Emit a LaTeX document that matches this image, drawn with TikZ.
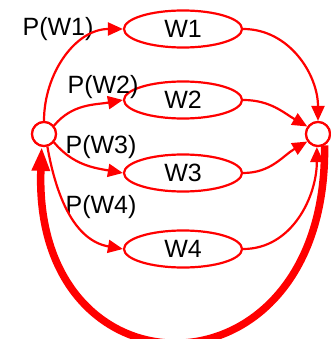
\documentclass[tikz,border=0pt]{standalone}
\usepackage{fontspec}
\setmainfont{Liberation Sans}
\usetikzlibrary{arrows.meta,shapes.geometric}
\begin{document}
\begin{tikzpicture}[x=1pt,y=-1pt,
  lbl/.style={font=\fontsize{25}{27}\selectfont, inner sep=0pt},
  wnode/.style={draw=red, line width=2.2pt, ellipse, minimum width=118pt, minimum height=37pt, inner sep=0pt, font=\fontsize{25}{27}\selectfont},
  cnode/.style={draw=red, line width=2.2pt, circle, minimum size=24pt, inner sep=0pt, fill=white},
  edge/.style={draw=red, line width=2.2pt, -{Triangle[length=15pt,width=13pt]}, red},
  thick edge/.style={draw=red, line width=7.5pt, -{Triangle[length=24pt,width=17pt]}, red}]
\useasboundingbox (0,0) rectangle (330,339);
\node[cnode] (L) at (44,134) {};
\node[cnode] (R) at (318,134) {};
\node[wnode] (W1) at (183,29) {W1};
\node[wnode] (W2) at (183,100) {W2};
\node[wnode] (W3) at (183,173) {W3};
\node[wnode] (W4) at (183,249) {W4};
\node[lbl] (p1) at (58,29) {P(W1)};
\node[lbl] (p2) at (103,87) {P(W2)};
\node[lbl] (p3) at (101,147) {P(W3)};
\node[lbl] (p4) at (101,207) {P(W4)};
\draw[thick edge] (R.-60) .. controls (328,405) and (32,405) .. (L.-100);
\draw[edge] (L.90) to[out=90,in=180] (W1.west);
\draw[edge] (L.40) to[out=50,in=190] (W2.west);
\draw[edge] (L.-40) to[out=-50,in=170] (W3.west);
\draw[edge] (L.-75) to[out=-80,in=170] (W4.west);
\draw[edge] (W1.east) to[out=0,in=90] (R.north);
\draw[edge] (W2.east) to[out=0,in=150] (R.145);
\draw[edge] (W3.east) to[out=0,in=210] (R.215);
\draw[edge] (W4.east) to[out=0,in=-90] (R.-95);
\node[cnode] at (L) {};
\node[cnode] at (R) {};
\end{tikzpicture}
\end{document}
